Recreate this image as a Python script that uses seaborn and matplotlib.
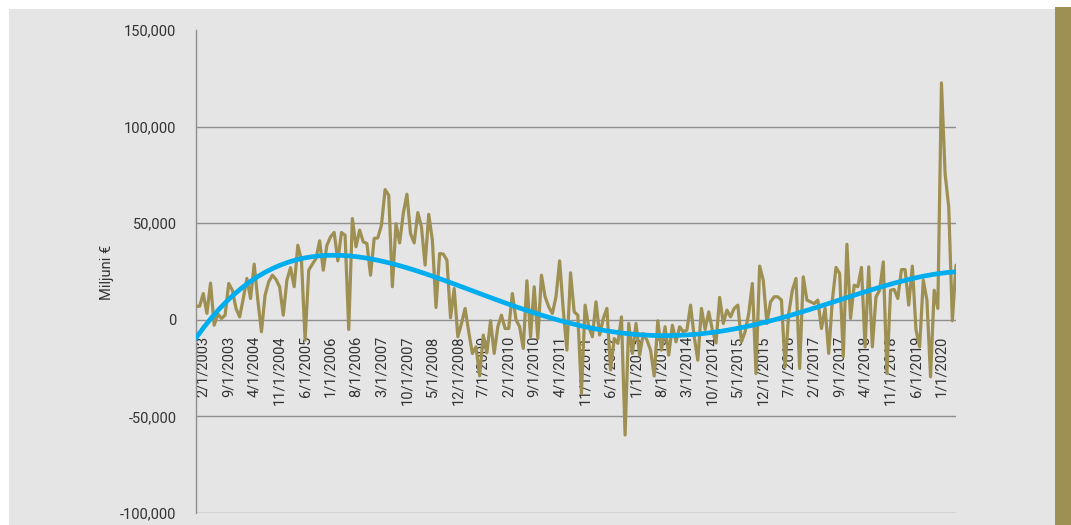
import numpy as np
import pandas as pd
import matplotlib
matplotlib.use("Agg")
import matplotlib.pyplot as plt
import seaborn as sns
from matplotlib.patches import Rectangle

# Monthly series, Dec 2002 - May 2020 (million EUR)
months = pd.date_range("2002-12-01", "2020-05-01", freq="MS")
values = [
    7000, 7000, 13600, 3300, 19000, -2800, 3000, 700, 2400, 18800,
    15300, 5900, 1500, 11000, 21400, 11000, 28800, 10200, -6200, 12800,
    19700, 23100, 20900, 17100, 2400, 20500, 27000, 17100, 38600, 30900,
    -10500, 25700, 28800, 31700, 40900, 25700, 38600, 42900, 45200, 30500,
    45200, 43800, -5000, 52400, 37800, 46400, 40300, 39500, 23100, 42100,
    42400, 49000, 67400, 64500, 17100, 49800, 39800, 55000, 65000, 44600,
    39800, 55500, 48100, 28300, 54600, 41200, 6400, 34300, 34000, 30900,
    1000, 16200, -8800, -2000, 5900, -6200, -17400, -14000, -29000, -7900,
    -17100, -500, -17400, -3600, 2400, -4500, -4500, 13600, 0, -3600,
    -14800, 20200, -8800, 17100, -9700, 23100, 11900, 6700, 3300, 11900,
    30500, 5000, -15700, 24300, 4100, 2400, -38100, 7600, -3600, -8800,
    9300, -7900, 700, 5900, -26000, -9700, -12200, 1500, -59600, -1900,
    -17400, -1900, -18300, -7100, -10500, -15700, -29100, -500, -15700, -3600,
    -18300, -2800, -11400, -3600, -6200, -5300, 7600, -8800, -20900, 5900,
    -5000, 4100, -5300, -12000, 11600, -1900, 5000, 1500, 5900, 7600,
    -11400, -6200, 3300, 18800, -27800, 27800, 20500, -1900, 9300, 11900,
    11900, 10200, -24300, 3300, 15300, 21400, -25200, 22200, 10200, 9300,
    8400, 10200, -4500, 5900, -17400, 10200, 27100, 24000, -19100, 39100,
    700, 17900, 17100, 27100, -14000, 27400, -14000, 11900, 15300, 30000,
    -27800, 15300, 15700, 11000, 26000, 26000, 7600, 27800, -5300, -14000,
    20500, 10200, -29500, 15300, 5900, 122600, 75700, 58400, -500, 28300,
]
x_tick_labels = [
    "2/1/2003", "9/1/2003", "4/1/2004", "11/1/2004", "6/1/2005", "1/1/2006",
    "8/1/2006", "3/1/2007", "10/1/2007", "5/1/2008", "12/1/2008", "7/1/2009",
    "2/1/2010", "9/1/2010", "4/1/2011", "11/1/2011", "6/1/2012", "1/1/2013",
    "8/1/2013", "3/1/2014", "10/1/2014", "5/1/2015", "12/1/2015", "7/1/2016",
    "2/1/2017", "9/1/2017", "4/1/2018", "11/1/2018", "6/1/2019", "1/1/2020",
]
y_ticks = [-100000, -50000, 0, 50000, 100000, 150000]
y_tick_labels = ["-100,000", "-50,000", "0", "50,000", "100,000", "150,000"]
y_label = "Miljuni €"
trend_order = 4

GOLD = "#9e8f52"
BLUE = "#00aeef"
PANEL = "#e5e5e5"
GRID = "#8f8f8f"
TEXT = "#333333"

df = pd.DataFrame({"t": np.arange(len(months)), "value": values})
tick_pos = [months.get_loc(pd.to_datetime(s, format="%m/%d/%Y")) for s in x_tick_labels]

sns.set_theme(style="white")
plt.rcParams["font.family"] = ["Roboto", "DejaVu Sans"]

W, H = 1071, 525
fig = plt.figure(figsize=(W / 100, H / 100), dpi=100, facecolor="white")
# grey panel and the olive side strip
fig.patches.append(Rectangle((9 / W, 0), 1046 / W, 516 / H, transform=fig.transFigure,
                             facecolor=PANEL, edgecolor="none", zorder=-10))
fig.patches.append(Rectangle((1055 / W, 0), 16 / W, 518 / H, transform=fig.transFigure,
                             facecolor=GOLD, edgecolor="none", zorder=-10))

ax = fig.add_axes([196 / W, 12 / H, 760 / W, 483 / H])
ax.patch.set_alpha(0)

sns.lineplot(data=df, x="t", y="value", color=GOLD, linewidth=2.3, ax=ax, zorder=3)
sns.regplot(data=df, x="t", y="value", order=trend_order, scatter=False, ci=None,
            truncate=True, ax=ax, line_kws=dict(color=BLUE, linewidth=3.4, zorder=4))

ax.set_xlim(0, len(months) - 1)
ax.set_ylim(y_ticks[0], y_ticks[-1])
ax.set_xlabel("")
ax.set_ylabel("")

ax.set_yticks(y_ticks, y_tick_labels)
ax.set_xticks(tick_pos, x_tick_labels)
ax.tick_params(axis="both", length=0, labelsize=10.5, labelcolor=TEXT)
ax.tick_params(axis="y", pad=14)
ax.tick_params(axis="x", pad=11.5, labelrotation=90)

# category labels hang from the zero line
ax.spines["bottom"].set_position(("data", 0))
ax.spines["bottom"].set_visible(False)
ax.spines["top"].set_visible(False)
ax.spines["right"].set_visible(False)
ax.spines["left"].set_color(GRID)
ax.spines["left"].set_linewidth(1.0)

ax.set_axisbelow(True)
ax.yaxis.grid(True, color=GRID, linewidth=1.0)
for line, t in zip(ax.get_ygridlines(), ax.get_yticks()):
    if t >= y_ticks[-1]:
        line.set_visible(False)

fig.text(107.5 / W, 1 - 272 / H, y_label, rotation=90, ha="center", va="center",
         fontsize=10.5, color=TEXT)

fig.savefig("out.png", dpi=100)
